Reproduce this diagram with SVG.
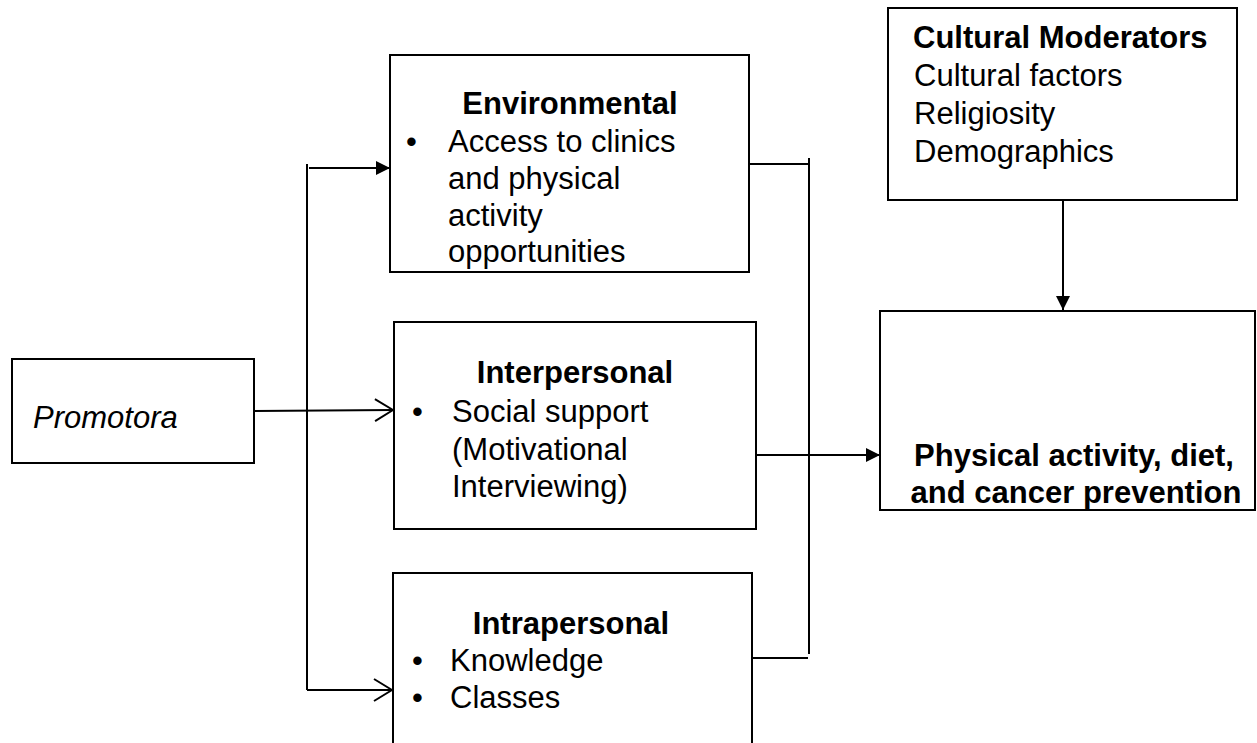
<svg xmlns="http://www.w3.org/2000/svg" width="1257" height="743" viewBox="0 0 1257 743">
  <style>
    .box { fill: #ffffff; stroke: #000000; stroke-width: 2; }
    .t { font-family: "Liberation Sans", Arial, sans-serif; font-size: 31px; fill: #000000; }
    .b { font-weight: bold; }
    .i { font-style: italic; }
    .mid { text-anchor: middle; }
    .ln { fill: none; stroke: #000000; stroke-width: 2; }
  </style>
  <defs>
    <marker id="solid" viewBox="0 0 14 14" refX="14" refY="7" markerWidth="14" markerHeight="14" markerUnits="userSpaceOnUse" orient="auto">
      <path d="M0,0 L14,7 L0,14 Z" fill="#000000"/>
    </marker>
    <marker id="open" viewBox="0 0 20 24" refX="19" refY="12" markerWidth="20" markerHeight="24" markerUnits="userSpaceOnUse" orient="auto">
      <path d="M1,1 L19,12 L1,23" fill="none" stroke="#000000" stroke-width="2"/>
    </marker>
  </defs>

  <rect width="1257" height="743" fill="#ffffff"/>

  <!-- connectors -->
  <g id="connectors">
    <!-- trunk from the promotora to the three levels -->
    <line class="ln" x1="307" y1="164" x2="307" y2="690"/>
    <line class="ln" x1="309" y1="168" x2="390" y2="168" marker-end="url(#solid)"/>
    <line class="ln" x1="254" y1="411" x2="393" y2="410" marker-end="url(#open)"/>
    <line class="ln" x1="307" y1="690" x2="392" y2="690" marker-end="url(#open)"/>
    <!-- bracket gathering the three levels -->
    <line class="ln" x1="749" y1="164" x2="809" y2="164"/>
    <line class="ln" x1="809" y1="158" x2="809" y2="654"/>
    <line class="ln" x1="752" y1="658" x2="808" y2="658"/>
    <line class="ln" x1="756" y1="455" x2="880" y2="455" marker-end="url(#solid)"/>
    <!-- moderators into outcome -->
    <line class="ln" x1="1063" y1="200" x2="1063" y2="310" marker-end="url(#solid)"/>
  </g>

  <g id="promotora">
    <rect class="box" x="12" y="359" width="242" height="104"/>
    <text class="t i" x="33" y="428">Promotora</text>
  </g>

  <g id="environmental">
    <rect class="box" x="390" y="55" width="359" height="217"/>
    <text class="t b mid" x="570" y="114">Environmental</text>
    <text class="t" x="406" y="152">•</text>
    <text class="t" x="448" y="152">Access to clinics</text>
    <text class="t" x="448" y="189">and physical</text>
    <text class="t" x="448" y="226">activity</text>
    <text class="t" x="448" y="262">opportunities</text>
  </g>

  <g id="interpersonal">
    <rect class="box" x="394" y="322" width="362" height="207"/>
    <text class="t b mid" x="575" y="383">Interpersonal</text>
    <text class="t" x="412" y="422">•</text>
    <text class="t" x="452" y="422">Social support</text>
    <text class="t" x="452" y="460">(Motivational</text>
    <text class="t" x="452" y="497">Interviewing)</text>
  </g>

  <g id="intrapersonal">
    <rect class="box" x="393" y="573" width="359" height="200"/>
    <text class="t b mid" x="571" y="634">Intrapersonal</text>
    <text class="t" x="412" y="671">•</text>
    <text class="t" x="450" y="671">Knowledge</text>
    <text class="t" x="412" y="708">•</text>
    <text class="t" x="450" y="708">Classes</text>
  </g>

  <g id="cultural-moderators">
    <rect class="box" x="888" y="8" width="349" height="192"/>
    <text class="t b" x="913" y="48">Cultural Moderators</text>
    <text class="t" x="914" y="86">Cultural factors</text>
    <text class="t" x="914" y="124">Religiosity</text>
    <text class="t" x="914" y="162">Demographics</text>
  </g>

  <g id="outcome">
    <rect class="box" x="880" y="311" width="375" height="199"/>
    <text class="t b mid" x="1074" y="466">Physical activity, diet,</text>
    <text class="t b mid" x="1076" y="503">and cancer prevention</text>
  </g>
</svg>
